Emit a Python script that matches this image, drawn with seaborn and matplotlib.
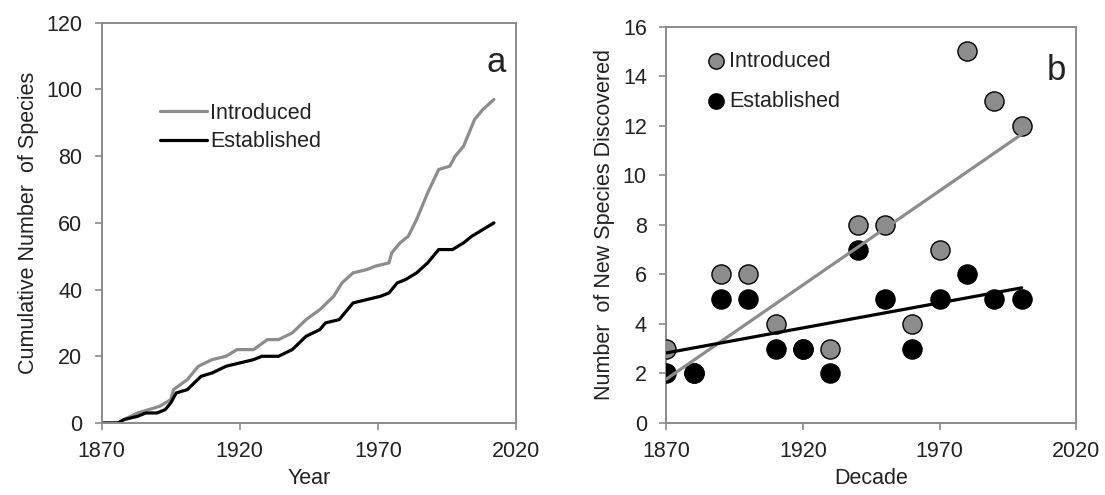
import matplotlib
matplotlib.use("Agg")
import matplotlib.pyplot as plt
import numpy as np
import pandas as pd
import seaborn as sns

# panel a: cumulative species counts
intro_years = [1870, 1876, 1878, 1883, 1887, 1891, 1895, 1896, 1901, 1905, 1910,
               1915, 1919, 1925, 1930, 1934, 1939, 1944, 1949, 1954, 1957, 1961,
               1966, 1969, 1974, 1975, 1978, 1981, 1984, 1988, 1992, 1996, 1998,
               2001, 2005, 2008, 2012]
intro_cum = [0, 0, 1, 3, 4, 5, 7, 10, 13, 17, 19, 20, 22, 22, 25, 25, 27, 31, 34,
             38, 42, 45, 46, 47, 48, 51, 54, 56, 61, 69, 76, 77, 80, 83, 91, 94, 97]

estab_years = [1870, 1876, 1878, 1883, 1886, 1890, 1893, 1895, 1897, 1901, 1906,
               1910, 1915, 1920, 1925, 1928, 1934, 1939, 1944, 1949, 1951, 1956,
               1961, 1966, 1971, 1974, 1977, 1980, 1984, 1988, 1992, 1997, 2001,
               2004, 2008, 2012]
estab_cum = [0, 0, 1, 2, 3, 3, 4, 6, 9, 10, 14, 15, 17, 18, 19, 20, 20, 22, 26,
             28, 30, 31, 36, 37, 38, 39, 42, 43, 45, 48, 52, 52, 54, 56, 58, 60]

# panel b: new species per decade
decades = [1870, 1880, 1890, 1900, 1910, 1920, 1930, 1940, 1950, 1960, 1970,
           1980, 1990, 2000]
intro_new = [3, 2, 6, 6, 4, 3, 3, 8, 8, 4, 7, 15, 13, 12]
estab_new = [2, 2, 5, 5, 3, 3, 2, 7, 5, 3, 5, 6, 5, 5]

GREY = "#8c8c8c"
SPINE = "#8a8a8a"
TXT = "#222222"
FS = 15.5

sns.set_theme(style="white")
plt.rcParams["font.family"] = ["Liberation Sans", "DejaVu Sans"]

fig = plt.figure(figsize=(11.05, 4.95), dpi=100)
ax_a = fig.add_axes([0.092, 0.1455, 0.375, 0.8085])
ax_b = fig.add_axes([0.603, 0.1455, 0.371, 0.8005])

# ---- panel a
sns.lineplot(x=intro_years, y=intro_cum, ax=ax_a, color=GREY, linewidth=2.3,
             label="Introduced")
sns.lineplot(x=estab_years, y=estab_cum, ax=ax_a, color="black", linewidth=2.3,
             label="Established")
ax_a.set_xlim(1870, 2020)
ax_a.set_ylim(0, 120)
ax_a.set_xticks([1870, 1920, 1970, 2020])
ax_a.set_yticks(range(0, 121, 20))
ax_a.set_xlabel("Year", fontsize=FS, labelpad=4)
ax_a.set_ylabel("Cumulative Number  of Species", fontsize=FS, labelpad=5)
ax_a.legend(loc="upper left", bbox_to_anchor=(0.141, 0.80), frameon=False,
            fontsize=FS, handlelength=2.2, handletextpad=0.12, labelspacing=0.35,
            borderaxespad=0, borderpad=0)
ax_a.text(0.975, 0.90, "a", transform=ax_a.transAxes, fontsize=25,
          ha="right", va="center", color=TXT)

# ---- panel b
sns.scatterplot(x=decades, y=intro_new, ax=ax_b, color=GREY, edgecolor="black",
                linewidth=1.0, s=190, label="Introduced", zorder=3)
sns.scatterplot(x=decades, y=estab_new, ax=ax_b, color="black", edgecolor="black",
                linewidth=1.0, s=190, label="Established", zorder=3)
sns.regplot(x=decades, y=intro_new, ax=ax_b, scatter=False, ci=None,
            color=GREY, line_kws={"linewidth": 2.3, "zorder": 4})
sns.regplot(x=decades, y=estab_new, ax=ax_b, scatter=False, ci=None,
            color="black", line_kws={"linewidth": 2.3, "zorder": 4})
ax_b.set_xlim(1870, 2020)
ax_b.set_ylim(0, 16)
ax_b.set_xticks([1870, 1920, 1970, 2020])
ax_b.set_yticks(range(0, 17, 2))
ax_b.set_xlabel("Decade", fontsize=FS, labelpad=4)
ax_b.set_ylabel("Number  of New Species Discovered", fontsize=FS, labelpad=6)
ax_b.legend(loc="upper left", bbox_to_anchor=(0.096, 0.94), frameon=False,
            fontsize=FS, handlelength=1.0, handletextpad=0.1, labelspacing=0.9,
            borderaxespad=0, borderpad=0, markerscale=0.8)
ax_b.text(0.975, 0.89, "b", transform=ax_b.transAxes, fontsize=25,
          ha="right", va="center", color=TXT)

for ax in (ax_a, ax_b):
    for sp in ax.spines.values():
        sp.set_visible(True)
        sp.set_color(SPINE)
        sp.set_linewidth(1.4)
    ax.tick_params(axis="both", which="major", direction="out", length=5,
                   width=1.2, color=SPINE, labelsize=FS, labelcolor=TXT,
                   bottom=True, left=True)
    ax.tick_params(axis="x", pad=8)
    ax.tick_params(axis="y", pad=9)
    ax.xaxis.label.set_color(TXT)
    ax.yaxis.label.set_color(TXT)
    for t in ax.get_legend().get_texts():
        t.set_color(TXT)

fig.savefig("out.png", dpi=100)
